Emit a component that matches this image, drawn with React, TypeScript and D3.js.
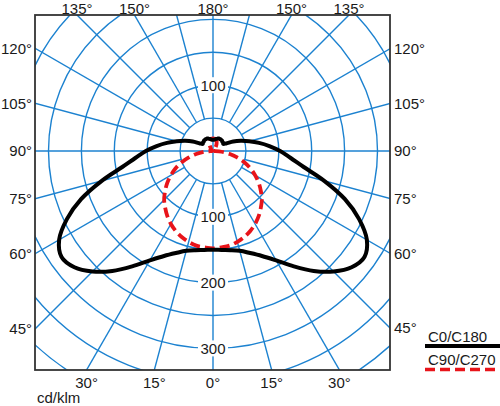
import { useMemo } from 'react';
import * as d3 from 'd3';

// gamma angles (deg from nadir) and intensities in cd/klm
const gammas = [0, 5, 10, 15, 20, 25, 30, 35, 40, 45, 50, 55, 60, 65, 70, 75, 80, 85, 90,
    95, 100, 105, 110, 115, 120, 125, 130, 135, 140, 145, 150, 155, 160, 165, 170, 175, 180];
const c0c180 = [150, 151, 153, 157, 165, 176, 192, 214, 238, 259, 275, 281, 270, 245, 213, 175, 140, 118, 102,
    86, 71, 57, 45, 34, 23, 19, 20, 20, 21, 21, 21, 21, 20, 19, 18, 17, 17];
const c90c270 = [148, 147, 146, 143, 139, 134, 128, 121, 113, 105, 95, 85, 74, 63, 51, 38, 26, 13, 2,
    1, 1, 1, 1, 1, 2, 2, 3, 4, 5, 7, 10, 13, 16, 18, 19, 19, 19];

const ringValues = [50, 100, 150, 200, 250, 300, 350, 400];
const ringLabelsBelow = [100, 200, 300];
const ringLabelsAbove = [100];
const sideLabels = [45, 60, 75, 90, 105, 120];
const topLabels = [135, 150];
const bottomLabels = [15, 30];

const W = 500;
const H = 406;
const frame = { left: 35, top: 15, right: 390, bottom: 370 };
const cx = 213;
const cy = 151;
const BLUE = '#1c82d0';
const RED = '#e8141a';
const FONT = '"Liberation Sans", Arial, sans-serif';

export default function App() {
    const r = d3.scaleLinear().domain([0, 100]).range([0, 65.8]);

    const curvePath = (vals: number[]) => {
        const pts: { a: number; v: number }[] = [];
        // right half: gamma 180 -> 0  (radial angle 0 -> 180)
        for (let i = gammas.length - 1; i >= 0; i--) {
            pts.push({ a: ((180 - gammas[i]) * Math.PI) / 180, v: vals[i] });
        }
        // left half: gamma 5 -> 175
        for (let i = 1; i < gammas.length - 1; i++) {
            pts.push({ a: ((180 + gammas[i]) * Math.PI) / 180, v: vals[i] });
        }
        return d3.lineRadial<{ a: number; v: number }>()
            .angle(d => d.a)
            .radius(d => r(d.v))
            .curve(d3.curveCatmullRomClosed)(pts) ?? '';
    };

    const blackPath = useMemo(() => curvePath(c0c180), []);
    const redPath = useMemo(() => curvePath(c90c270), []);

    const spokes = d3.range(0, 360, 15).filter(a => a % 90 !== 0);
    const r0 = r(50);

    const rad = (g: number) => (g * Math.PI) / 180;
    const leftY = (g: number) => cy + ((cx - frame.left) / Math.sin(rad(g))) * Math.cos(rad(g));
    const rightY = (g: number) => cy + ((frame.right - cx) / Math.sin(rad(g))) * Math.cos(rad(g));
    const topDx = (g: number) => ((cy - frame.top) / -Math.cos(rad(g))) * Math.sin(rad(g));
    const botDx = (g: number) => ((frame.bottom - cy) / Math.cos(rad(g))) * Math.sin(rad(g));

    const textStyle = { fontFamily: FONT, fontSize: 15, fill: '#1a1a1a' };
    const topY = 13.5;

    return (
        <svg width={W} height={H} style={{ position: 'absolute', left: 0, top: 0, background: '#fff' }}>
            <defs>
                <clipPath id="plotClip">
                    <rect x={frame.left} y={frame.top} width={frame.right - frame.left} height={frame.bottom - frame.top} />
                </clipPath>
            </defs>
            <rect width={W} height={H} fill="#fff" />
            <g clipPath="url(#plotClip)" fill="none" stroke={BLUE} strokeWidth={1.4}>
                {ringValues.map(v => (
                    <circle key={v} cx={cx} cy={cy} r={r(v)} />
                ))}
                {spokes.map(a => (
                    <line key={a}
                        x1={cx + r0 * Math.sin(rad(a))} y1={cy - r0 * Math.cos(rad(a))}
                        x2={cx + 600 * Math.sin(rad(a))} y2={cy - 600 * Math.cos(rad(a))} />
                ))}
                <line x1={cx} y1={frame.top} x2={cx} y2={frame.bottom} />
                <line x1={frame.left} y1={cy} x2={frame.right} y2={cy} />
            </g>

            {/* intensity labels on the vertical axis */}
            {ringLabelsBelow.map(v => (
                <g key={'b' + v}>
                    <rect x={cx - 15} y={cy + r(v) - 8} width={30} height={16} fill="#fff" />
                    <text x={cx} y={cy + r(v)} dy="0.36em" textAnchor="middle" style={textStyle}>{v}</text>
                </g>
            ))}
            {ringLabelsAbove.map(v => (
                <g key={'a' + v}>
                    <rect x={cx - 15} y={cy - r(v) - 8} width={30} height={16} fill="#fff" />
                    <text x={cx} y={cy - r(v)} dy="0.36em" textAnchor="middle" style={textStyle}>{v}</text>
                </g>
            ))}

            <g clipPath="url(#plotClip)">
                <path d={redPath} transform={`translate(${cx},${cy})`} fill="none" stroke={RED} strokeWidth={3.8} strokeDasharray="10,5" />
                <path d={blackPath} transform={`translate(${cx},${cy})`} fill="none" stroke="#000" strokeWidth={4} strokeLinejoin="round" />
            </g>

            <rect x={frame.left} y={frame.top} width={frame.right - frame.left} height={frame.bottom - frame.top}
                fill="none" stroke="#333" strokeWidth={1.8} />

            {/* angle labels */}
            {sideLabels.map(g => (
                <g key={'s' + g}>
                    <text x={frame.left - 3} y={leftY(g)} dy="0.36em" textAnchor="end" style={textStyle}>{g}°</text>
                    <text x={frame.right + 4} y={rightY(g)} dy="0.36em" textAnchor="start" style={textStyle}>{g}°</text>
                </g>
            ))}
            {topLabels.map(g => (
                <g key={'t' + g}>
                    <text x={cx - topDx(g)} y={topY} textAnchor="middle" style={textStyle}>{g}°</text>
                    <text x={cx + topDx(g)} y={topY} textAnchor="middle" style={textStyle}>{g}°</text>
                </g>
            ))}
            <text x={cx} y={topY} textAnchor="middle" style={textStyle}>180°</text>
            {bottomLabels.map(g => (
                <g key={'d' + g}>
                    <text x={cx - botDx(g)} y={388} textAnchor="middle" style={textStyle}>{g}°</text>
                    <text x={cx + botDx(g)} y={388} textAnchor="middle" style={textStyle}>{g}°</text>
                </g>
            ))}
            <text x={cx} y={388} textAnchor="middle" style={textStyle}>0°</text>
            <text x={37} y={403} style={textStyle}>cd/klm</text>

            {/* legend */}
            <text x={428} y={342} style={textStyle}>C0/C180</text>
            <line x1={425} x2={500} y1={346} y2={346} stroke="#000" strokeWidth={4} />
            <text x={428} y={365} style={textStyle}>C90/C270</text>
            <line x1={425} x2={500} y1={369.5} y2={369.5} stroke={RED} strokeWidth={3.5} strokeDasharray="10,5" />
        </svg>
    );
}
